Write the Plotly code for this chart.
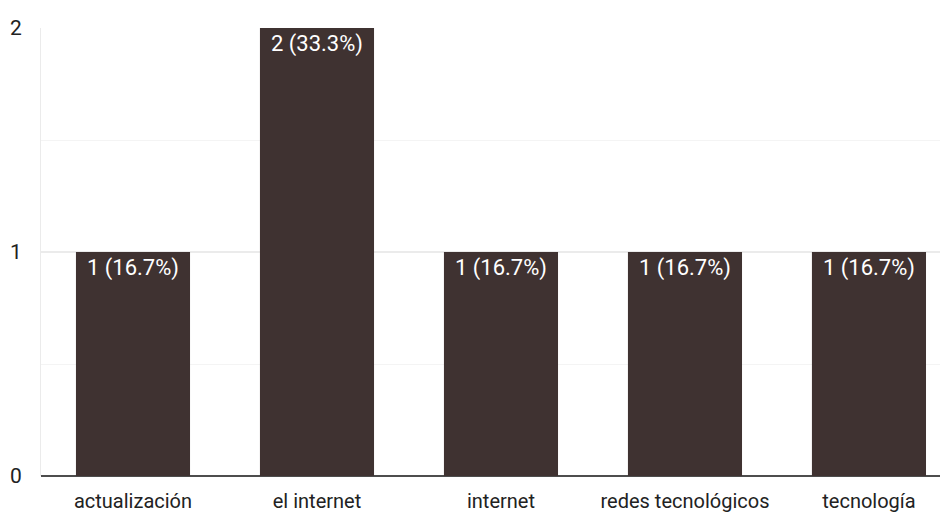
import plotly.graph_objects as go

categories = ["actualización", "el internet", "internet", "redes tecnológicos", "tecnología"]
counts = [1, 2, 1, 1, 1]
labels = ["1 (16.7%)", "2 (33.3%)", "1 (16.7%)", "1 (16.7%)", "1 (16.7%)"]
y_ticks = [0, 1, 2]

FONT = "Roboto, Liberation Sans, sans-serif"

fig = go.Figure(go.Bar(
    x=categories, y=counts, text=labels,
    textposition="inside", insidetextanchor="end",
    textfont=dict(family=FONT, size=22, color="white"),
    marker=dict(color="#3f3231", line=dict(width=0)),
    width=0.62, cliponaxis=False,
))

fig.update_layout(
    width=948, height=524,
    margin=dict(l=33, r=0, t=20, b=56, autoexpand=False),
    paper_bgcolor="white", plot_bgcolor="white",
    showlegend=False,
    font=dict(family=FONT, size=20, color="#222222"),
    xaxis=dict(
        range=[-0.5, 4.473], showgrid=False, zeroline=False, automargin=False,
        showline=False, ticks="", ticklabelstandoff=11,
        tickfont=dict(family=FONT, size=20, color="#222222"),
    ),
    yaxis=dict(
        range=[0, 2], tickvals=y_ticks, ticktext=[str(v) for v in y_ticks],
        automargin=False,
        showgrid=True, gridcolor="#ebebeb", gridwidth=2,
        zeroline=True, zerolinecolor="#4d4d4d", zerolinewidth=2,
        showline=True, linecolor="#ebebeb", linewidth=1,
        ticks="", ticklabelstandoff=14,
        tickfont=dict(family=FONT, size=21, color="#222222"),
        minor=dict(tickvals=[0.5, 1.5], showgrid=True, gridcolor="#f4f4f4", gridwidth=1),
    ),
)

fig.write_html("out.html")
